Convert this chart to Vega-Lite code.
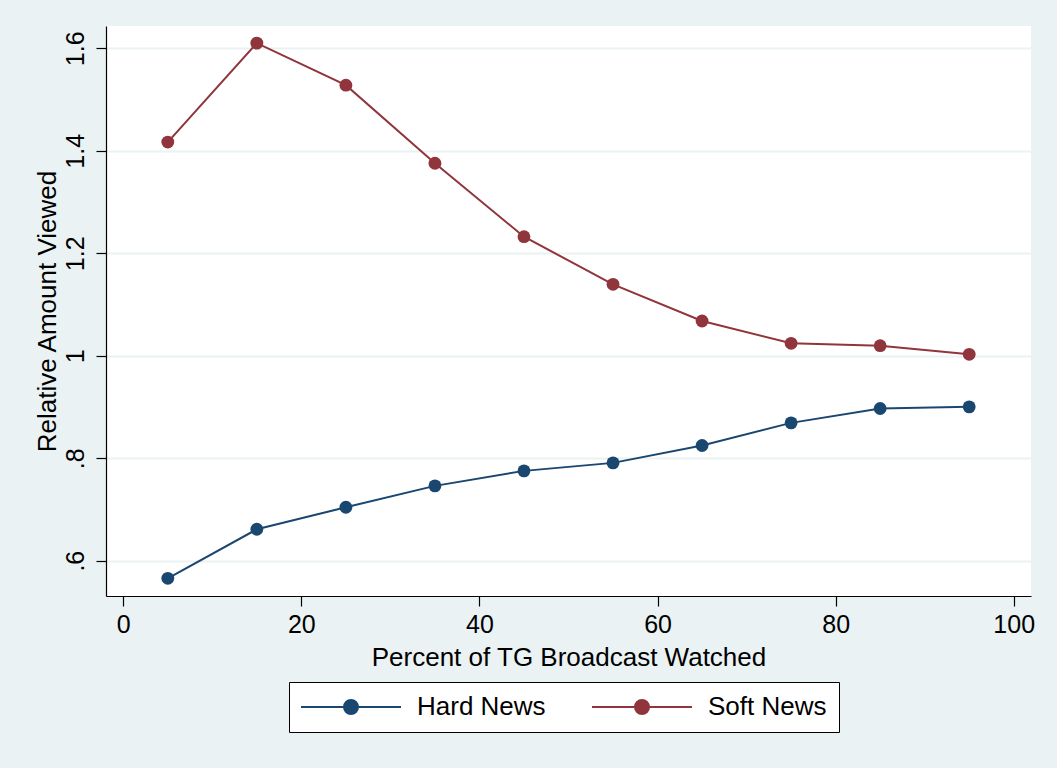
{
  "$schema": "https://vega.github.io/schema/vega-lite/v6.json",
  "autosize": {"type": "none"},
  "padding": {"left": 106, "top": 26, "right": 26, "bottom": 172},
  "width": 925,
  "height": 570,
  "background": "#EAF2F3",
  "config": {
    "font": "Liberation Sans",
    "view": {"fill": "white", "stroke": null},
    "axis": {
      "domainColor": "black",
      "domainWidth": 1.2,
      "tickColor": "black",
      "tickWidth": 1.2,
      "tickSize": 10,
      "labelColor": "black",
      "titleColor": "black",
      "titleFontWeight": "normal",
      "labelFont": "Liberation Sans",
      "titleFont": "Liberation Sans"
    }
  },
  "data": {
    "values": [
      {"pct": 5, "series": "Hard News", "amount": 0.5656},
      {"pct": 15, "series": "Hard News", "amount": 0.6613},
      {"pct": 25, "series": "Hard News", "amount": 0.7043},
      {"pct": 35, "series": "Hard News", "amount": 0.746},
      {"pct": 45, "series": "Hard News", "amount": 0.7753},
      {"pct": 55, "series": "Hard News", "amount": 0.7909},
      {"pct": 65, "series": "Hard News", "amount": 0.8249},
      {"pct": 75, "series": "Hard News", "amount": 0.869},
      {"pct": 85, "series": "Hard News", "amount": 0.8971},
      {"pct": 95, "series": "Hard News", "amount": 0.9002},
      {"pct": 5, "series": "Soft News", "amount": 1.417},
      {"pct": 15, "series": "Soft News", "amount": 1.61},
      {"pct": 25, "series": "Soft News", "amount": 1.528},
      {"pct": 35, "series": "Soft News", "amount": 1.3756},
      {"pct": 45, "series": "Soft News", "amount": 1.2323},
      {"pct": 55, "series": "Soft News", "amount": 1.1394},
      {"pct": 65, "series": "Soft News", "amount": 1.0678},
      {"pct": 75, "series": "Soft News", "amount": 1.0242},
      {"pct": 85, "series": "Soft News", "amount": 1.0196},
      {"pct": 95, "series": "Soft News", "amount": 1.0028}
    ]
  },
  "encoding": {
    "x": {
      "field": "pct",
      "type": "quantitative",
      "scale": {"domain": [-1.94, 101.94], "nice": false, "zero": false},
      "axis": {
        "title": "Percent of TG Broadcast Watched",
        "values": [0, 20, 40, 60, 80, 100],
        "grid": false,
        "labelFontSize": 25,
        "labelBaseline": "alphabetic",
        "labelPadding": 26,
        "labelFlush": false,
        "titleFontSize": 26,
        "titleBaseline": "alphabetic",
        "titleAlign": "center",
        "titleX": 462.5,
        "titleY": 69.5
      }
    },
    "y": {
      "field": "amount",
      "type": "quantitative",
      "scale": {"domain": [0.5311, 1.6435], "nice": false, "zero": false},
      "axis": {
        "title": "Relative Amount Viewed",
        "values": [0.6, 0.8, 1, 1.2, 1.4, 1.6],
        "labelExpr": "datum.value == 1 ? '1' : (datum.value < 1 ? '.' + round(datum.value * 10) : format(datum.value, '.1f'))",
        "grid": true,
        "gridColor": "#EAF2F3",
        "gridWidth": 2,
        "labelFontSize": 25,
        "labelAngle": 270,
        "labelAlign": "center",
        "labelBaseline": "alphabetic",
        "labelPadding": 13,
        "labelFlush": false,
        "titleFontSize": 26,
        "titleAngle": 270,
        "titleAlign": "center",
        "titleBaseline": "alphabetic",
        "titleX": -51,
        "titleY": 285
      }
    },
    "color": {
      "field": "series",
      "type": "nominal",
      "scale": {"domain": ["Hard News", "Soft News"], "range": ["#1A476F", "#90353B"]},
      "legend": {
        "title": null,
        "orient": "none",
        "legendX": 183,
        "legendY": 656,
        "direction": "horizontal",
        "fillColor": "white",
        "strokeColor": "black",
        "padding": 12,
        "symbolType": "M -1.3 0 L 8.7 0 M 4.4 0 A 0.7 0.7 0 1 1 3.0 0 A 0.7 0.7 0 1 1 4.4 0 Z",
        "symbolSize": 400,
        "symbolStrokeWidth": 2,
        "symbolOpacity": 1,
        "labelFontSize": 26,
        "labelColor": "black",
        "labelOffset": 90,
        "columnPadding": 42,
        "labelFont": "Liberation Sans",
        "encoding": {
          "legend": {
            "update": {"strokeWidth": {"value": 1.2}}
          },
          "symbols": {
            "update": {
              "fill": {"scale": "color", "field": "value"},
              "stroke": {"scale": "color", "field": "value"}
            }
          }
        }
      }
    }
  },
  "layer": [
    {"mark": {"type": "line", "strokeWidth": 2}},
    {"mark": {"type": "point", "filled": true, "size": 165, "opacity": 1}}
  ]
}
